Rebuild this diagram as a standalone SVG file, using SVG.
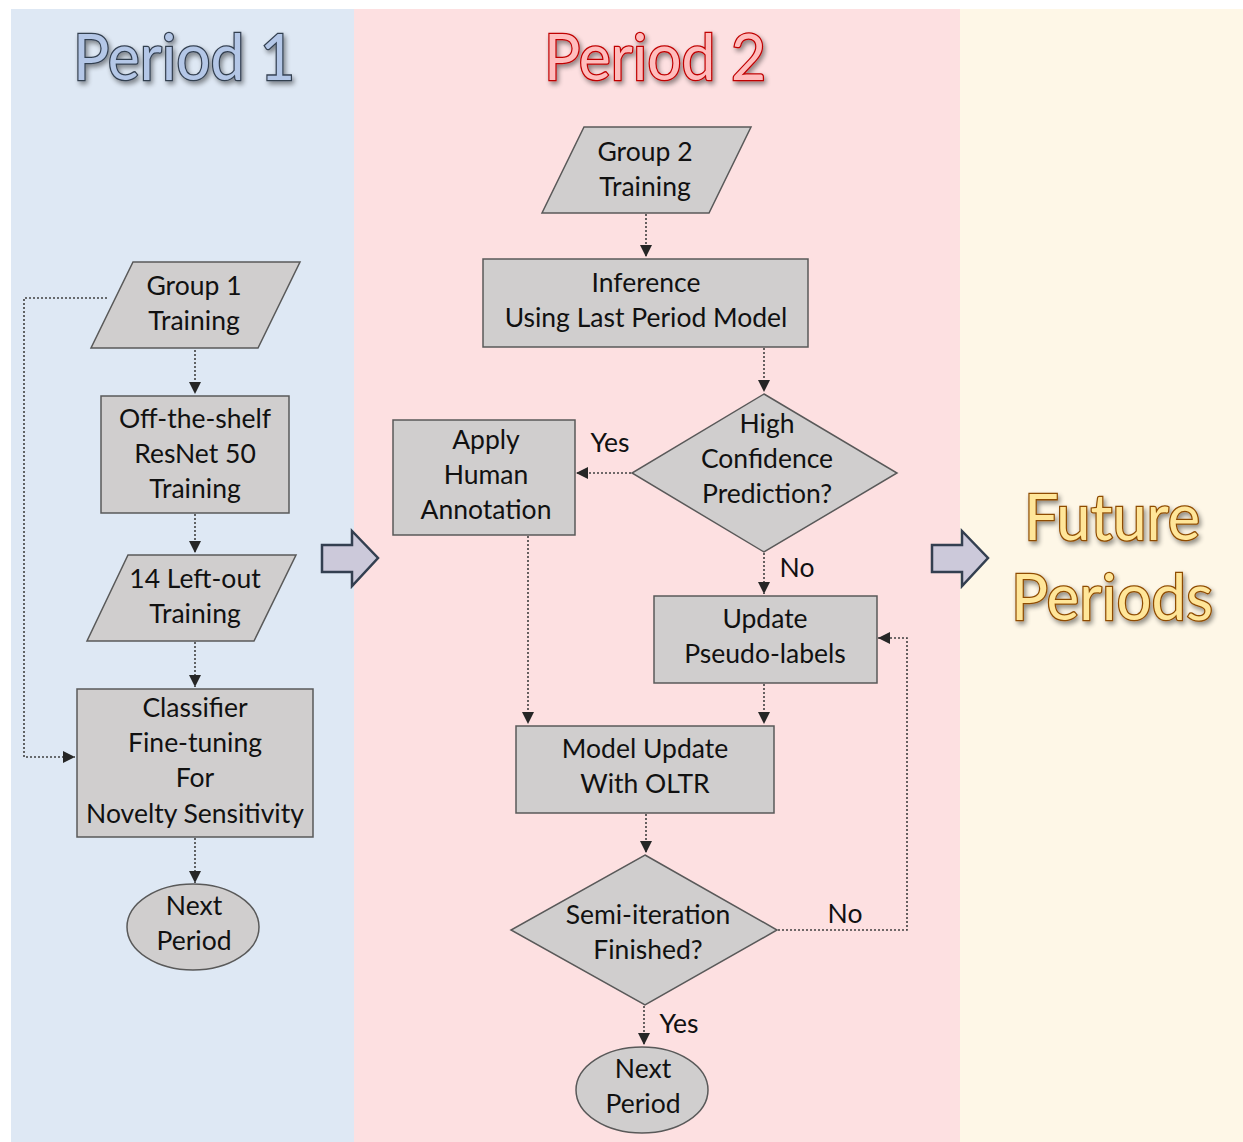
<svg xmlns="http://www.w3.org/2000/svg" width="1243" height="1142" viewBox="0 0 1243 1142">
<defs>
<marker id="ah" viewBox="0 0 12 12" refX="12" refY="6" markerWidth="12" markerHeight="12" markerUnits="userSpaceOnUse" orient="auto">
<path d="M0,0 L12,6 L0,12 Z" fill="#262626"/>
</marker>
<filter id="sh" x="-10%" y="-10%" width="130%" height="140%">
<feGaussianBlur in="SourceAlpha" stdDeviation="2.5"/>
<feOffset dx="2" dy="3" result="b"/>
<feComponentTransfer><feFuncA type="linear" slope="0.45"/></feComponentTransfer>
<feMerge><feMergeNode/><feMergeNode in="SourceGraphic"/></feMerge>
</filter>
<style>
.n{fill:#D0CECE;stroke:#595959;stroke-width:1.5}
.t{font-family:Lato,"Open Sans",sans-serif;font-size:26.5px;fill:#111;text-anchor:middle}
.c{fill:none;stroke:#404040;stroke-width:1.6;stroke-dasharray:2 2}
.ba{fill:#CCC9DA;stroke:#333F50;stroke-width:2.5;stroke-linejoin:miter}
.title{font-family:Lato,"Open Sans",sans-serif;font-weight:normal;font-size:64px;text-anchor:middle;stroke-width:2.6;paint-order:stroke}
</style>
</defs>
<rect x="0" y="0" width="1243" height="1142" fill="#ffffff"/>
<rect x="11" y="9" width="343" height="1133" fill="#DEE8F4"/>
<rect x="354" y="9" width="606" height="1133" fill="#FDE0E1"/>
<rect x="960" y="9" width="283" height="1133" fill="#FEF7E7"/>

<g id="titles" filter="url(#sh)">
<text class="title" x="184" y="80" fill="#B4C7E7" stroke="#333F50" textLength="222" lengthAdjust="spacingAndGlyphs">Period 1</text>
<text class="title" x="655" y="80" fill="#FFBDBD" stroke="#C00000" textLength="222" lengthAdjust="spacingAndGlyphs">Period 2</text>
<text class="title" x="1112" y="540" fill="#FFE699" stroke="#8F4C00" textLength="176" lengthAdjust="spacingAndGlyphs">Future</text>
<text class="title" x="1112" y="620" fill="#FFE699" stroke="#8F4C00" textLength="202" lengthAdjust="spacingAndGlyphs">Periods</text>
</g>

<g id="bigarrows">
<path class="ba" d="M322,545 L352,545 L352,531 L378,558 L352,586 L352,572 L322,572 Z"/>
<path class="ba" d="M932,545 L962,545 L962,531 L988,558 L962,586 L962,572 L932,572 Z"/>
</g>

<g id="connectors">
<path class="c" d="M107,298 L24,298 L24,757 L75,757" marker-end="url(#ah)"/>
<path class="c" d="M195,350 L195,394" marker-end="url(#ah)"/>
<path class="c" d="M195,514 L195,553" marker-end="url(#ah)"/>
<path class="c" d="M195,642 L195,687" marker-end="url(#ah)"/>
<path class="c" d="M195,838 L195,883" marker-end="url(#ah)"/>
<path class="c" d="M646,214 L646,257" marker-end="url(#ah)"/>
<path class="c" d="M764,348 L764,392" marker-end="url(#ah)"/>
<path class="c" d="M631,473 L576,473" marker-end="url(#ah)"/>
<path class="c" d="M764,553 L764,594" marker-end="url(#ah)"/>
<path class="c" d="M528,536 L528,724" marker-end="url(#ah)"/>
<path class="c" d="M764,684 L764,724" marker-end="url(#ah)"/>
<path class="c" d="M646,814 L646,853" marker-end="url(#ah)"/>
<path class="c" d="M778,930 L907,930 L907,638 L878,638" marker-end="url(#ah)"/>
<path class="c" d="M644,1006 L644,1045" marker-end="url(#ah)"/>
<text class="t" x="610" y="452">Yes</text>
<text class="t" x="797" y="577">No</text>
<text class="t" x="845" y="923">No</text>
<text class="t" x="679" y="1033">Yes</text>
</g>

<g id="group1">
<polygon class="n" points="133,262 300,262 258,348 91,348"/>
<text class="t" x="194" y="295">Group 1</text>
<text class="t" x="194" y="330">Training</text>
</g>
<g id="resnet">
<rect class="n" x="101" y="396" width="188" height="117"/>
<text class="t" x="195" y="428">Off-the-shelf</text>
<text class="t" x="195" y="463">ResNet 50</text>
<text class="t" x="195" y="498">Training</text>
</g>
<g id="leftout">
<polygon class="n" points="128,555 296,555 254,641 87,641"/>
<text class="t" x="195" y="588">14 Left-out</text>
<text class="t" x="195" y="623">Training</text>
</g>
<g id="classifier">
<rect class="n" x="77" y="689" width="236" height="148"/>
<text class="t" x="195" y="717">Classifier</text>
<text class="t" x="195" y="752">Fine-tuning</text>
<text class="t" x="195" y="787">For</text>
<text class="t" x="195" y="823">Novelty Sensitivity</text>
</g>
<g id="next1">
<ellipse class="n" cx="193" cy="927" rx="66" ry="43"/>
<text class="t" x="194" y="915">Next</text>
<text class="t" x="194" y="950">Period</text>
</g>

<g id="group2">
<polygon class="n" points="584,127 751,127 709,213 542,213"/>
<text class="t" x="645" y="161">Group 2</text>
<text class="t" x="645" y="196">Training</text>
</g>
<g id="inference">
<rect class="n" x="483" y="259" width="325" height="88"/>
<text class="t" x="646" y="292">Inference</text>
<text class="t" x="646" y="327">Using Last Period Model</text>
</g>
<g id="highconf">
<polygon class="n" points="764,394 897,473 764,552 632,473"/>
<text class="t" x="767" y="433">High</text>
<text class="t" x="767" y="468">Confidence</text>
<text class="t" x="767" y="503">Prediction?</text>
</g>
<g id="human">
<rect class="n" x="393" y="420" width="182" height="115"/>
<text class="t" x="486" y="449">Apply</text>
<text class="t" x="486" y="484">Human</text>
<text class="t" x="486" y="519">Annotation</text>
</g>
<g id="pseudo">
<rect class="n" x="654" y="596" width="223" height="87"/>
<text class="t" x="765" y="628">Update</text>
<text class="t" x="765" y="663">Pseudo-labels</text>
</g>
<g id="modelupdate">
<rect class="n" x="516" y="726" width="258" height="87"/>
<text class="t" x="645" y="758">Model Update</text>
<text class="t" x="645" y="793">With OLTR</text>
</g>
<g id="semiiter">
<polygon class="n" points="645,855 777,930 645,1005 511,930"/>
<text class="t" x="648" y="924">Semi-iteration</text>
<text class="t" x="648" y="959">Finished?</text>
</g>
<g id="next2">
<ellipse class="n" cx="642" cy="1090" rx="66" ry="43"/>
<text class="t" x="643" y="1078">Next</text>
<text class="t" x="643" y="1113">Period</text>
</g>
</svg>
